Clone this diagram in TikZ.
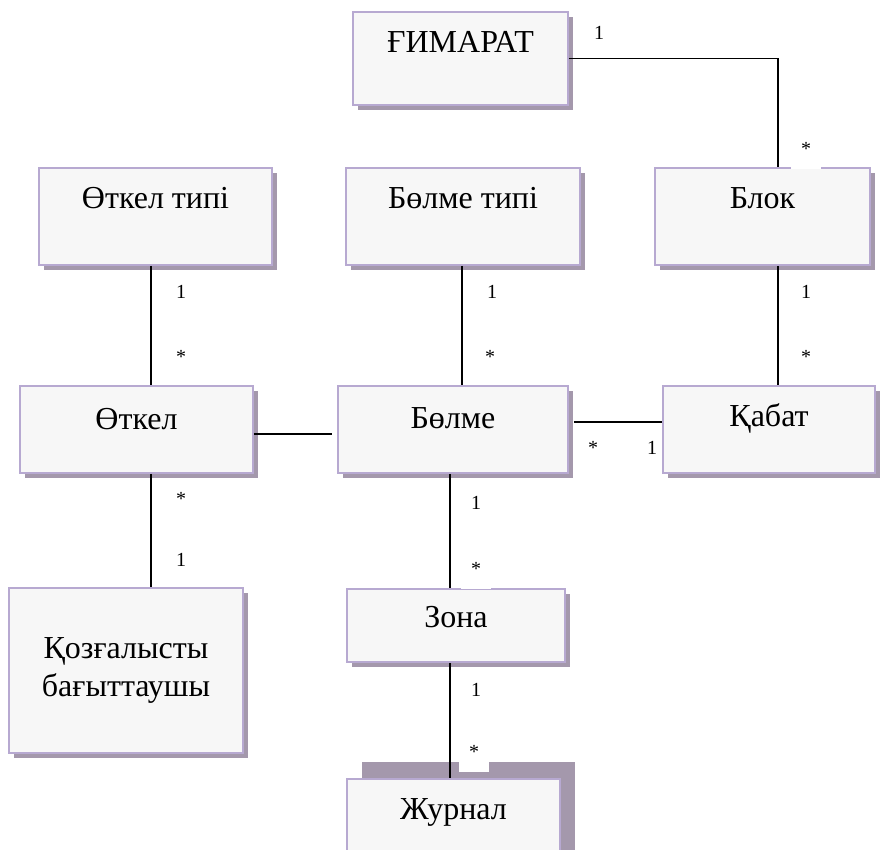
\documentclass[tikz,border=0pt]{standalone}
\usepackage{fontspec}
\setmainfont{Liberation Serif}[Ligatures=TeX]
\usetikzlibrary{shadows}

\definecolor{boxfill}{HTML}{F7F7F7}
\definecolor{boxedge}{HTML}{B7A9D1}
\definecolor{boxshade}{HTML}{A498AC}

\newcommand\entfont{\rmfamily\fontsize{32}{38}\selectfont}
\newcommand\multfont{\rmfamily\fontsize{20}{22}\selectfont}

\tikzset{
  ent/.style={draw=boxedge, fill=boxfill, line width=1.8pt, inner sep=0pt,
    drop shadow={shadow xshift=5pt, shadow yshift=-5pt, fill=boxshade, opacity=1}},
  etext/.style={anchor=base, yshift=-41pt, font=\entfont, inner sep=0pt},
  conn/.style={draw=black, line width=1.3pt},
  mult/.style={font=\multfont, inner sep=0pt},
  multpatch/.style={mult, fill=white, minimum width=30pt, minimum height=40pt},
}

\begin{document}
\begin{tikzpicture}[x=1pt, y=-1pt]
  \path[use as bounding box, clip] (0,0) rectangle (880,850);

  % entities
  \node[ent, minimum width=215, minimum height=93,
        label={[etext]north:ҒИМАРАТ}] (gimarat) at (460.5,58.5) {};
  \node[ent, minimum width=233, minimum height=97,
        label={[etext]north:Өткел типі}] (otkeltipi) at (155.5,216.5) {};
  \node[ent, minimum width=234, minimum height=97,
        label={[etext]north:Бөлме типі}] (bolmetipi) at (463,216.5) {};
  \node[ent, minimum width=215, minimum height=97,
        label={[etext]north:Блок}] (blok) at (762.5,216.5) {};
  \node[ent, minimum width=233, minimum height=87,
        label={[etext, yshift=-3pt]north:Өткел}] (otkel) at (136.5,429.5) {};
  \node[ent, minimum width=230, minimum height=87,
        label={[etext, yshift=-2pt]north:Бөлме}] (bolme) at (453,429.5) {};
  \node[ent, minimum width=212, minimum height=87,
        label={[etext]north:Қабат}] (kabat) at (769,429.5) {};
  \node[ent, minimum width=234, minimum height=165, align=center, font=\entfont]
        (koz) at (126,670.5) {\raisebox{-5pt}{\parbox{220pt}{\centering Қозғалысты\\бағыттаушы}}};
  \node[ent, minimum width=218, minimum height=73,
        label={[etext, yshift=2pt]north:Зона}] (zona) at (456,625.5) {};
  \node[ent, minimum width=213, minimum height=91,
        drop shadow={shadow xshift=15pt, shadow yshift=17pt, fill=boxshade, opacity=1},
        label={[etext]north:Журнал}] (zhurnal) at (453.5,824.5) {};

  % associations
  \draw[conn] (gimarat.east) -| ([xshift=15.5pt]blok.north);
  \draw[conn] ([xshift=-4.5pt]otkeltipi.south) -- ([xshift=14.5pt]otkel.north);
  \draw[conn] ([xshift=-1pt]bolmetipi.south) -- ([xshift=9pt]bolme.north);
  \draw[conn] ([xshift=15.5pt]blok.south) -- ([xshift=9pt]kabat.north);
  \draw[conn] ([xshift=14.5pt]otkel.south) -- ([xshift=25pt]koz.north);
  \draw[conn] ([xshift=-3pt]bolme.south) -- ([xshift=-6pt]zona.north);
  \draw[conn] ([xshift=-6pt]zona.south) -- ([xshift=-3.5pt]zhurnal.north);
  \draw[conn, shorten >=5pt] ([yshift=-4.5pt]otkel.east) -- ([yshift=-4.5pt]bolme.west);
  \draw[conn, shorten <=5pt] ([yshift=7.5pt]bolme.east) -- ([yshift=7.5pt]kabat.west);

  % multiplicities
  \node[mult] (m1) at (599,33) {1};
  \node[multpatch] (m2) at (806,149) {*};
  \node[multpatch] (m3) at (181,292) {1};
  \node[mult] (m4) at (181,357) {*};
  \node[multpatch] (m5) at (492,292) {1};
  \node[mult] (m6) at (490,357) {*};
  \node[multpatch] (m7) at (806,292) {1};
  \node[mult] (m8) at (806,357) {*};
  \node[multpatch] (m9) at (181,499) {*};
  \node[mult] (m10) at (181,560) {1};
  \node[multpatch] (m11) at (476,503) {1};
  \node[multpatch] (m12) at (476,569) {*};
  \node[multpatch] (m13) at (476,690) {1};
  \node[multpatch] (m14) at (474,752) {*};
  \node[mult] (m15) at (593,448) {*};
  \node[mult] (m16) at (652,448) {1};
\end{tikzpicture}
\end{document}
